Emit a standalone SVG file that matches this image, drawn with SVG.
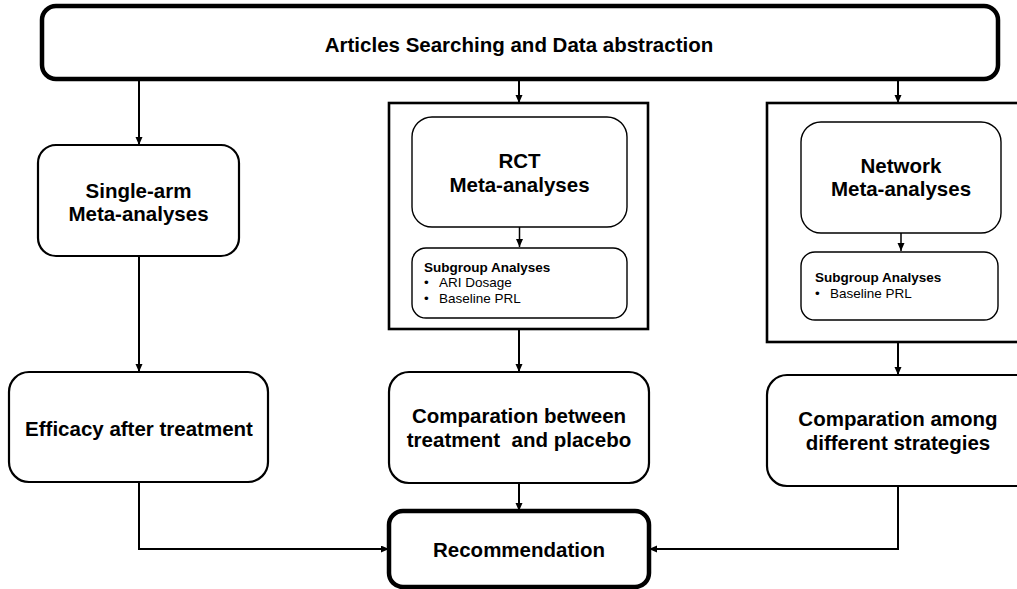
<svg xmlns="http://www.w3.org/2000/svg" width="1017" height="589" viewBox="0 0 1017 589">
<style>
.bx{fill:#fff;stroke:#000;stroke-width:2.2}
.thick{fill:#fff;stroke:#000;stroke-width:4.5}
.outer{fill:#fff;stroke:#000;stroke-width:2.6}
.inner{fill:#fff;stroke:#000;stroke-width:1.4}
.t{font-family:"Liberation Sans",Arial,sans-serif;font-weight:bold;font-size:20.5px;text-anchor:middle;fill:#000;white-space:pre}
.sh{font-family:"Liberation Sans",Arial,sans-serif;font-weight:bold;font-size:13.5px;fill:#000}
.sr{font-family:"Liberation Sans",Arial,sans-serif;font-size:13.5px;fill:#000}
.c{fill:none;stroke:#000;stroke-width:2;marker-end:url(#ah)}
.ci{fill:none;stroke:#000;stroke-width:1.5;marker-end:url(#ah)}
</style>
<defs>
<marker id="ah" markerUnits="userSpaceOnUse" markerWidth="8" markerHeight="8" refX="8" refY="3.5" orient="auto">
<path d="M0,0 L8,3.5 L0,7 z" fill="#000"/>
</marker>
</defs>
<rect width="1017" height="589" fill="#fff"/>

<g id="connectors">
<path class="c" d="M139,80 V145"/>
<path class="c" d="M519,80 V103"/>
<path class="c" d="M898,80 V103"/>
<path class="c" d="M139,256 V372"/>
<path class="c" d="M519,329 V372"/>
<path class="c" d="M898,342 V375"/>
<path class="c" d="M139,482 V549 H389"/>
<path class="c" d="M519,483 V511"/>
<path class="c" d="M898,486 V549 H649"/>
</g>

<g id="top">
<rect class="thick" x="42" y="6" width="956" height="73" rx="14"/>
<text class="t" x="519" y="52">Articles Searching and Data abstraction</text>
</g>

<g id="single-arm">
<rect class="bx" x="38" y="145" width="201" height="111" rx="18"/>
<text class="t" x="138.5" y="198">Single-arm</text>
<text class="t" x="138.5" y="221">Meta-analyses</text>
</g>

<g id="rct-group">
<rect class="outer" x="389" y="103" width="259" height="226"/>
<g id="rct">
<rect class="inner" x="412" y="117" width="215" height="110" rx="20"/>
<text class="t" x="519.5" y="168">RCT</text>
<text class="t" x="519.5" y="192">Meta-analyses</text>
</g>
<path class="ci" d="M519.5,227 V247"/>
<g id="rct-sub">
<rect class="inner" x="412" y="248" width="215" height="70" rx="14"/>
<text class="sh" x="424" y="272">Subgroup Analyses</text>
<text class="sr" x="424" y="287">•</text>
<text class="sr" x="439" y="287">ARI Dosage</text>
<text class="sr" x="424" y="303">•</text>
<text class="sr" x="439" y="303">Baseline PRL</text>
</g>
</g>

<g id="network-group">
<rect class="outer" x="767" y="103" width="270" height="239"/>
<g id="network">
<rect class="inner" x="801" y="122" width="200" height="111" rx="20"/>
<text class="t" x="901" y="173">Network</text>
<text class="t" x="901" y="196">Meta-analyses</text>
</g>
<path class="ci" d="M901,233 V251"/>
<g id="network-sub">
<rect class="inner" x="801" y="252" width="197" height="68" rx="14"/>
<text class="sh" x="815" y="282">Subgroup Analyses</text>
<text class="sr" x="815" y="298">•</text>
<text class="sr" x="830" y="298">Baseline PRL</text>
</g>
</g>

<g id="efficacy">
<rect class="bx" x="9" y="372" width="259" height="110" rx="20"/>
<text class="t" x="139" y="436">Efficacy after treatment</text>
</g>

<g id="comp-between">
<rect class="bx" x="389" y="372" width="260" height="111" rx="20"/>
<text class="t" x="519" y="423">Comparation between</text>
<text class="t" x="519" y="447">treatment  and placebo</text>
</g>

<g id="comp-among">
<rect class="bx" x="767" y="375" width="270" height="111" rx="20"/>
<text class="t" x="898" y="426">Comparation among</text>
<text class="t" x="898" y="450">different strategies</text>
</g>

<g id="recommendation">
<rect class="thick" x="389" y="511" width="260" height="76" rx="14"/>
<text class="t" x="519" y="557">Recommendation</text>
</g>
</svg>
